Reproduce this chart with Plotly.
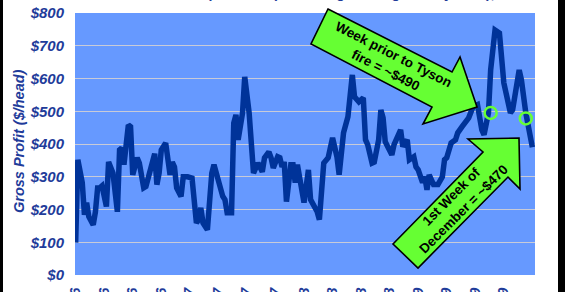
import pandas as pd
import plotly.graph_objects as go

# ---------------- data ----------------
start_date = "2016-01-09"          # first weekly observation

weeks = [0, 1, 3, 4, 5, 6, 8, 9, 10, 11, 12, 14, 15, 17, 19, 20, 21, 22, 24, 25,
         26, 28, 29, 31, 32, 34, 36, 37, 38, 39, 41, 43, 44, 45, 46, 48, 49, 51, 53, 55,
         56, 57, 58, 60, 62, 63, 64, 67, 68, 69, 71, 72, 73, 74, 76, 77, 79, 80, 81, 83,
         85, 86, 88, 89, 90, 92, 93, 94, 95, 96, 98, 99, 100, 101, 103, 104, 106, 107, 110, 111,
         113, 115, 117, 119, 120, 122, 124, 126, 127, 129, 131, 132, 133, 135, 136, 138, 139, 140, 141, 142,
         144, 145, 148, 149, 151, 152, 154, 155, 156, 158, 159, 160, 161, 163, 165, 167, 168, 169, 171, 173,
         174, 176, 179, 181, 183, 185, 186, 188, 189, 191, 193, 195, 198, 199, 202, 203, 205, 208]

gross_profit = [99, 352, 282, 184, 221, 178, 153, 193, 266, 266, 272, 209, 345, 311, 193, 382, 388, 337, 458, 453,
                306, 358, 342, 266, 270, 321, 370, 276, 311, 382, 403, 306, 345, 330, 266, 240, 300, 300, 296, 159,
                169, 205, 159, 138, 311, 337, 311, 240, 230, 190, 190, 464, 489, 413, 495, 605, 495, 361, 311, 342,
                315, 358, 376, 358, 327, 361, 358, 330, 345, 224, 337, 337, 282, 337, 245, 221, 321, 230, 193, 169,
                342, 358, 419, 361, 306, 434, 483, 611, 544, 529, 541, 413, 398, 342, 345, 413, 504, 480, 407, 392,
                367, 398, 443, 392, 413, 352, 361, 330, 321, 282, 300, 260, 306, 276, 276, 300, 352, 358, 403, 413,
                434, 453, 480, 514, 520, 443, 428, 495, 626, 748, 739, 587, 495, 504, 626, 596, 495, 390]

circle_weeks = [189, 205]
circle_values = [495, 478]

tick_weeks = [0, 13, 26, 39, 52, 65, 78, 91, 104, 117, 130, 143, 156, 169, 182, 195]
tick_labels = ["1/9/2016", "4/9/2016", "7/9/2016", "10/8/2016",
               "1/7/2017", "4/8/2017", "7/8/2017", "10/7/2017",
               "1/6/2018", "4/7/2018", "7/7/2018", "10/6/2018",
               "1/5/2019", "4/6/2019", "7/6/2019", "10/5/2019"]

y_ticks = [0, 100, 200, 300, 400, 500, 600, 700, 800]
y_tick_labels = ["$0", "$100", "$200", "$300", "$400", "$500", "$600", "$700", "$800"]

title_text = "Packer Gross Profit per Head (Beef Margin Using Weekly Data), 2016-2019"
y_title = "Gross Profit ($/head)"
arrow1_text = "Week prior to Tyson<br>fire = ~$490"
arrow2_text = "1st Week of<br>December = ~$470"

# ---------------- helpers ----------------
start = pd.Timestamp(start_date)


def to_date(w):
    return start + pd.to_timedelta(7 * w, unit="D")


dates = [to_date(w) for w in weeks]
circle_dates = [to_date(w) for w in circle_weeks]
tick_dates = [to_date(w) for w in tick_weeks]

W, H = 565, 292
ML, MR, MT, MB = 75, 30, 13, 17
PW, PH = W - ML - MR, H - MT - MB


def fx(px):
    return (px - ML) / PW


def fy(py):
    return (H - MB - py) / PH


def poly(points):
    return "M " + " L ".join(f"{fx(x):.4f},{fy(y):.4f}" for x, y in points) + " Z"


NAVY = "#003399"
TXT = "#1f3c9a"
GREEN = "#66ff33"
FONT = "Liberation Sans, Arial, sans-serif"

fig = go.Figure()
fig.add_trace(go.Scatter(x=dates, y=gross_profit, mode="lines",
                         line=dict(color=NAVY, width=5.5), hoverinfo="skip"))
fig.add_trace(go.Scatter(x=circle_dates, y=circle_values, mode="markers",
                         marker=dict(symbol="circle-open", size=12, color=GREEN,
                                     line=dict(width=2.5, color=GREEN)),
                         hoverinfo="skip"))

# block arrows (decorations, pixel geometry)
arrow1 = [(328, 9), (452, 72), (460, 57), (477, 107), (423, 124), (432, 107), (311, 44)]
arrow2 = [(393, 244), (483, 152), (468, 139), (519, 138), (520, 189), (508, 177), (418, 268)]
shapes = []
for pts in (arrow1, arrow2):
    shapes.append(dict(type="path", xref="paper", yref="paper", path=poly(pts),
                       fillcolor=GREEN, line=dict(color="black", width=1.6), layer="above"))
# black frame edges at left and right
shapes.append(dict(type="rect", xref="paper", yref="paper", x0=fx(0), x1=fx(3), y0=fy(H), y1=fy(0),
                   fillcolor="black", line=dict(width=0), layer="above"))
shapes.append(dict(type="rect", xref="paper", yref="paper", x0=fx(558), x1=fx(566), y0=fy(H), y1=fy(0),
                   fillcolor="black", line=dict(width=0), layer="above"))

annotations = [
    dict(text=arrow1_text, x=fx(389), y=fy(63), xref="paper", yref="paper", showarrow=False,
         textangle=27, xanchor="center", yanchor="middle",
         font=dict(family=FONT, size=13.5, color="black", weight="bold")),
    dict(text=arrow2_text, x=fx(457), y=fy(203), xref="paper", yref="paper", showarrow=False,
         textangle=-45, xanchor="center", yanchor="middle",
         font=dict(family=FONT, size=13.5, color="black", weight="bold")),
    dict(text=y_title, x=fx(19), y=fy(141), xref="paper", yref="paper", showarrow=False,
         textangle=-90, xanchor="center", yanchor="middle",
         font=dict(family=FONT, size=14.5, color=TXT, weight="bold", style="italic")),
    dict(text=title_text, x=fx(320), y=fy(3), xref="paper", yref="paper", showarrow=False,
         xanchor="center", yanchor="bottom",
         font=dict(family=FONT, size=14, color=TXT, weight="bold")),
]

fig.update_layout(
    width=W, height=H,
    margin=dict(l=ML, r=MR, t=MT, b=MB, pad=0),
    paper_bgcolor="white", plot_bgcolor="#6699ff",
    showlegend=False,
    shapes=shapes, annotations=annotations,
    xaxis=dict(type="date", range=[to_date(-0.3), to_date(209.2)],
               tickmode="array", tickvals=tick_dates, ticktext=tick_labels,
               tickangle=-90, showgrid=False, zeroline=False, showline=False,
               ticks="", ticklabelstandoff=9, automargin=False,
               tickfont=dict(family=FONT, size=14, color=TXT, weight="bold", style="italic")),
    yaxis=dict(range=[0, 800], tickmode="array", tickvals=y_ticks, ticktext=y_tick_labels,
               showgrid=True, gridcolor="#c8cbd8", gridwidth=1, zeroline=False, showline=False,
               ticks="", ticklabelstandoff=10, automargin=False,
               tickfont=dict(family=FONT, size=15, color=TXT, weight="bold", style="italic")),
)

fig.write_html("out.html")
